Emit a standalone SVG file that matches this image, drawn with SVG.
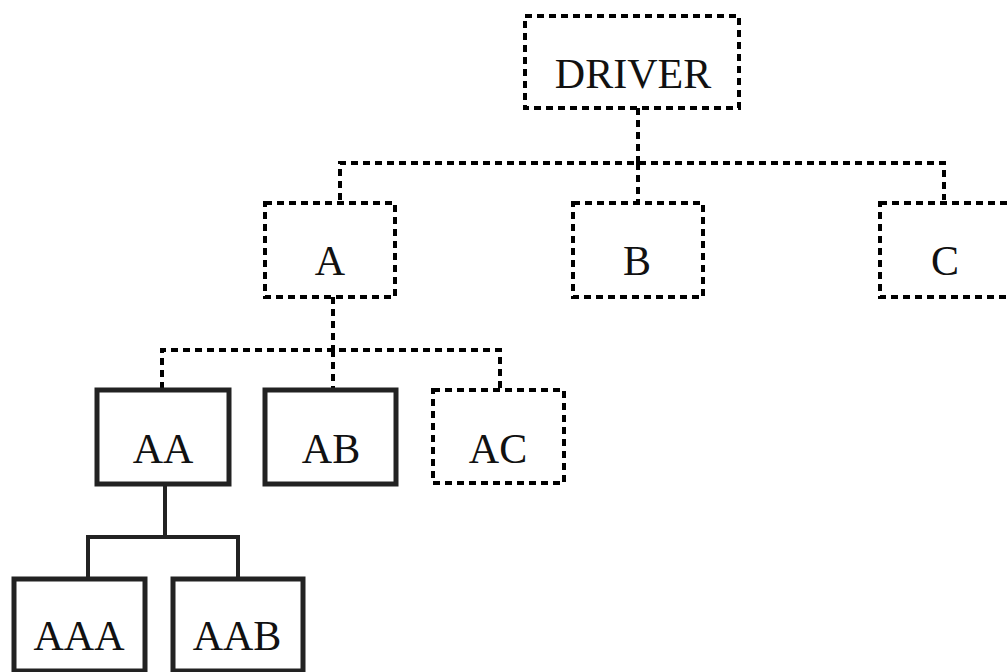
<svg xmlns="http://www.w3.org/2000/svg" width="1008" height="672" viewBox="0 0 1008 672">
<style>
.bg{fill:#fff}
.dash{fill:#fff;stroke:#000;stroke-width:4;stroke-dasharray:7 5}
.solid{fill:#fff;stroke:#222;stroke-width:5}
.cd{fill:none;stroke:#000;stroke-width:4;stroke-dasharray:7 5}
.cs{fill:none;stroke:#222;stroke-width:4}
text{font-family:"Liberation Serif","Times New Roman",serif;font-size:42px;fill:#111;text-anchor:middle}
</style>
<rect class="bg" x="0" y="0" width="1008" height="672"/>
<g id="connectors">
<path class="cd" d="M638 108 V163 M340 200 V163 H944 V200 M638 163 V203"/>
<path class="cd" d="M333 297 V350 M162 389 V350 H500 V390 M333 350 V389"/>
<path class="cs" d="M165 484 V537 M88 578 V537 H238 V578"/>
</g>
<g id="node-driver"><rect class="dash" x="525" y="16" width="214" height="92"/><text x="633" y="88">DRIVER</text></g>
<g id="node-a"><rect class="dash" x="265" y="203" width="130" height="94"/><text x="330" y="275">A</text></g>
<g id="node-b"><rect class="dash" x="573" y="203" width="130" height="94"/><text x="637" y="275">B</text></g>
<g id="node-c"><rect class="dash" x="880" y="203" width="130" height="94"/><text x="945" y="275">C</text></g>
<g id="node-aa"><rect class="solid" x="97" y="390" width="132" height="94"/><text x="163" y="463">AA</text></g>
<g id="node-ab"><rect class="solid" x="265" y="390" width="131" height="94"/><text x="331" y="463">AB</text></g>
<g id="node-ac"><rect class="dash" x="433" y="390" width="131" height="93"/><text x="498" y="463">AC</text></g>
<g id="node-aaa"><rect class="solid" x="14" y="579" width="131" height="92"/><text x="79" y="650">AAA</text></g>
<g id="node-aab"><rect class="solid" x="173" y="579" width="130" height="92"/><text x="237" y="650">AAB</text></g>
</svg>
